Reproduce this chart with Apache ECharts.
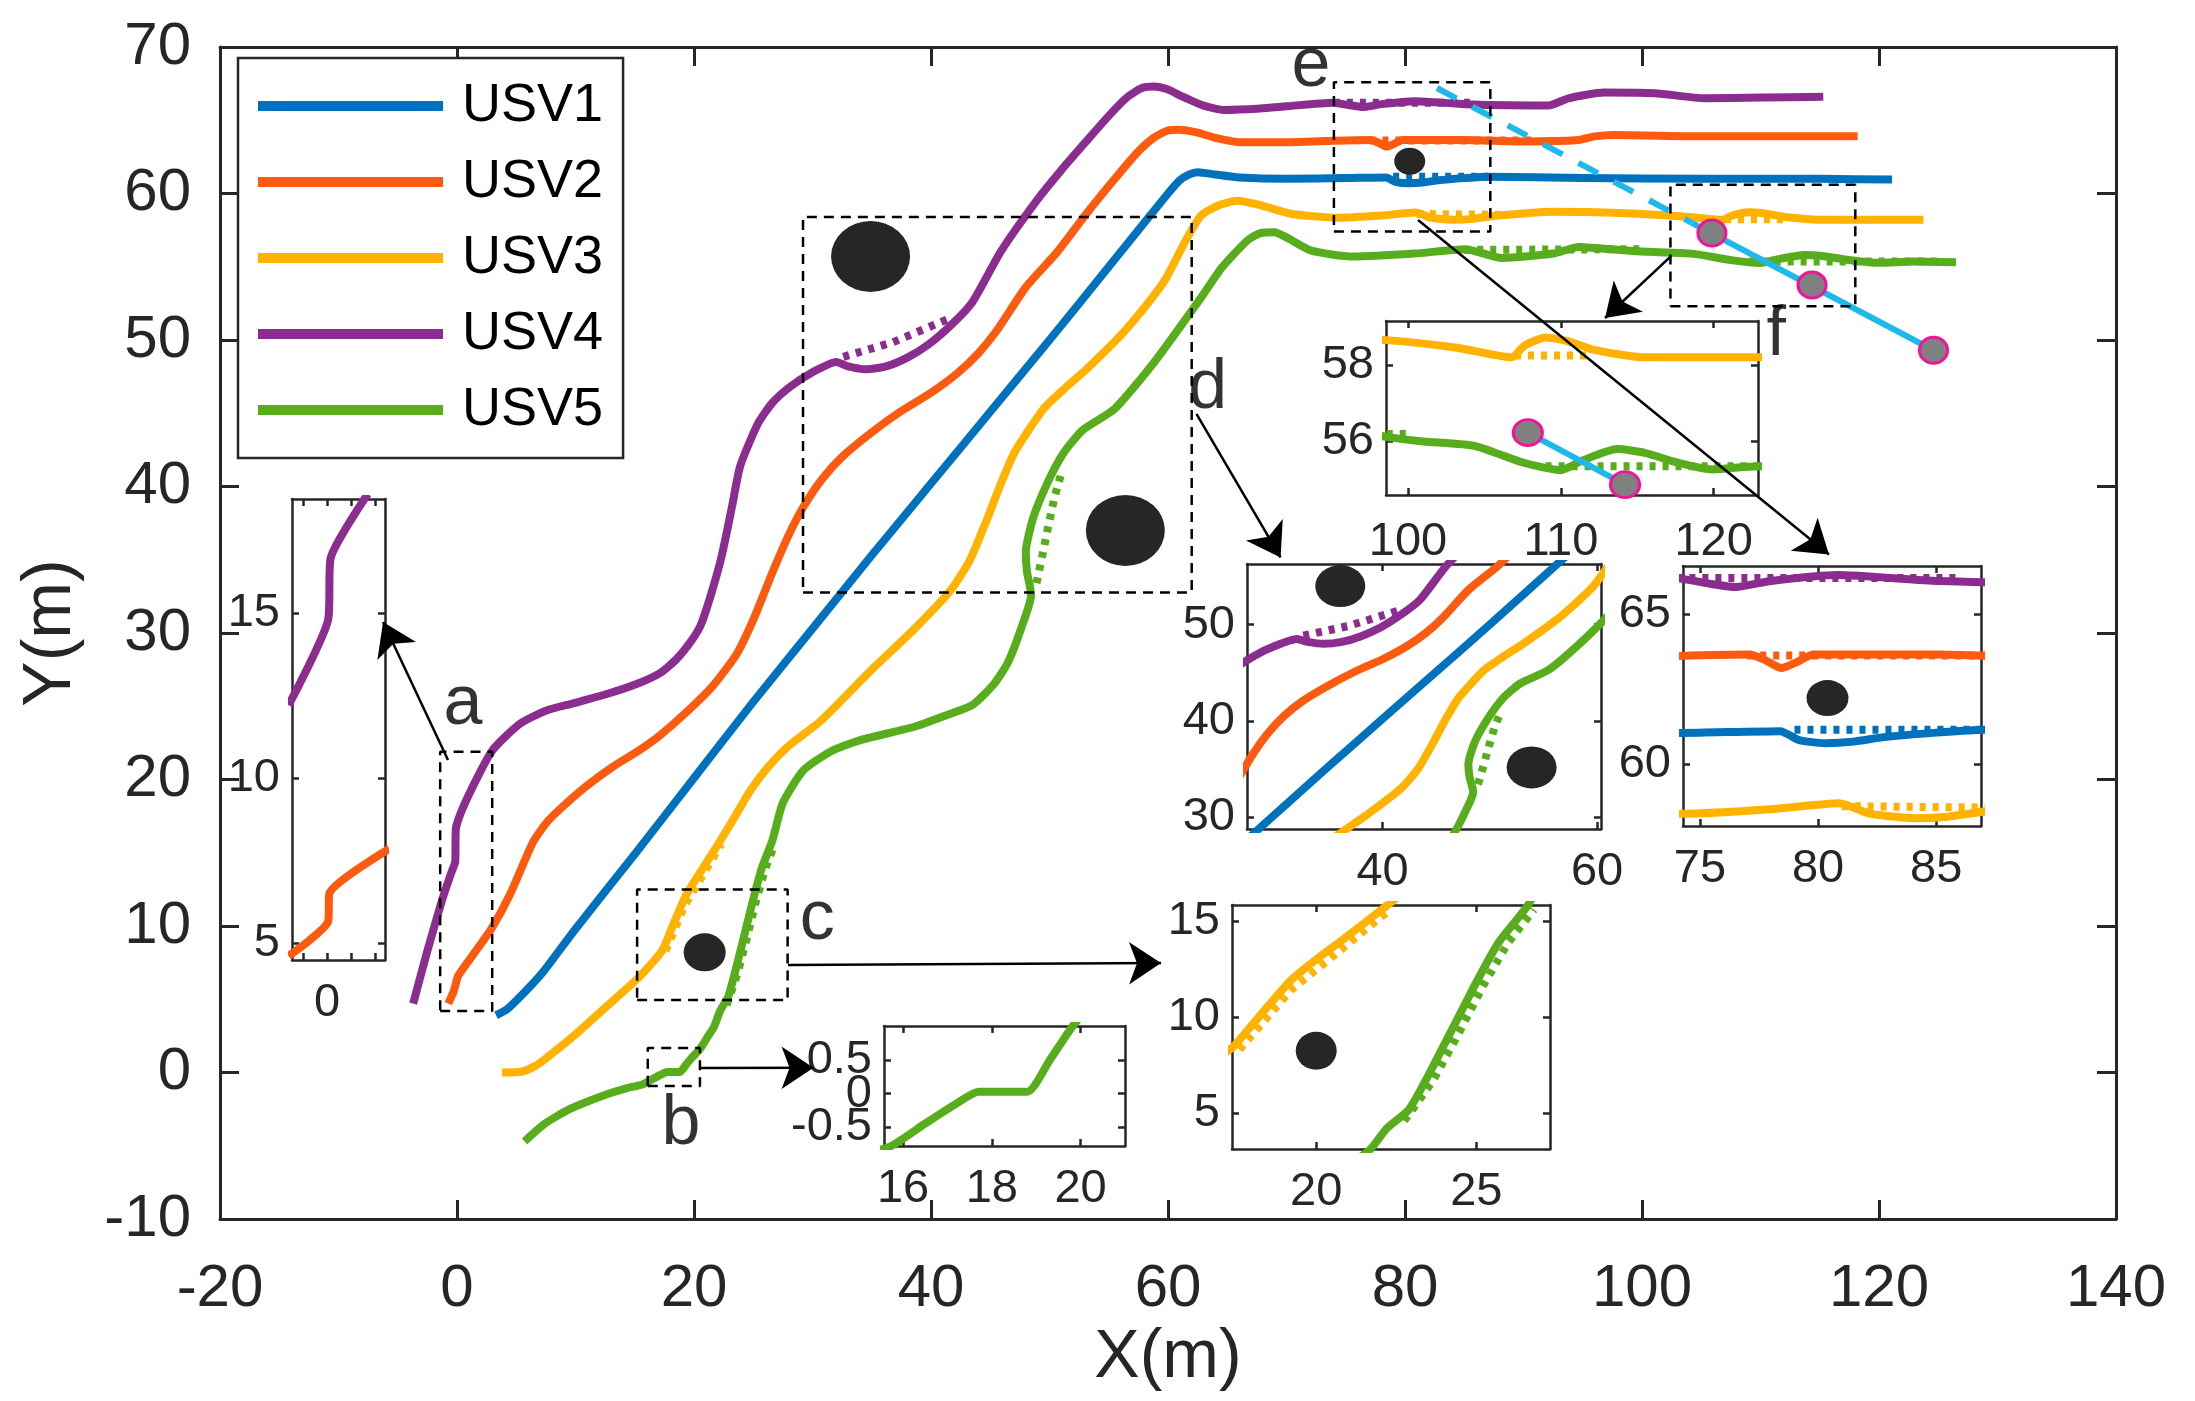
<!DOCTYPE html>
<html>
<head>
<meta charset="utf-8">
<script src="https://cdn.jsdelivr.net/npm/echarts@6/dist/echarts.min.js"></script>
<style>
  html, body { margin: 0; padding: 0; background: #fff; }
  #chart { width: 2195px; height: 1401px; }
</style>
</head>
<body>
<div id="chart"></div>
<script>
// trajectories of the five USVs, [x, y] in metres
const names = ['USV1', 'USV2', 'USV3', 'USV4', 'USV5'];
const colors = ['#0072BD', '#FC5A0E', '#FFB300', '#8B2C8F', '#57AD1B'];

const usv1 = [[3.3,3.9],[4.2,4.3],[5.0,4.9],[6.2,5.9],[7.4,7.0],[10,9.8],[15,14.9],[20,20.1],[25,25.3],[30,30.3],[35,35.3],[40,40.2],[45,45.1],[50,50.0],[55,55.0],[58,58.0],[60,60.0],[61,60.9],[61.8,61.3],[62.5,61.45],[64,61.3],[66,61.1],[70,61.0],[75,61.05],[78.4,61.1],[79.2,60.8],[80.3,60.7],[81.5,60.75],[82.8,60.9],[85,61.05],[87,61.15],[95,61.05],[105,61.0],[115,61.0],[121.1,60.95]];
const usv2 = [[-0.74,4.7],[-0.3,5.5],[-0.15,5.9],[0.1,6.6],[1.5,8.2],[2.9,9.8],[4.5,12.2],[6.4,15.7],[7.6,17.1],[8.85,18.1],[11,19.6],[13.2,20.9],[15.2,21.9],[17.1,23.0],[19.5,24.7],[21.5,26.3],[23.55,28.5],[25,30.9],[26.6,34.1],[28,36.7],[29.3,38.7],[30.8,40.5],[32.6,42.1],[35,43.7],[37.4,45.1],[40,46.4],[42.25,47.75],[44,49.1],[45.6,50.7],[48,53.6],[50.7,56.05],[53,58.5],[55.3,60.8],[57.3,62.7],[58.8,63.8],[60,64.3],[61,64.35],[62.5,64.15],[64,63.8],[66.1,63.5],[70,63.5],[74,63.6],[77.1,63.65],[77.8,63.45],[78.45,63.2],[79.1,63.4],[79.8,63.65],[85,63.65],[90,63.55],[94.65,63.65],[96,63.9],[97.65,64.0],[105.3,63.9],[118.2,63.9]];
const usv3 = [[3.8,0.0],[5.45,0.05],[6.5,0.4],[7.4,0.9],[10,2.6],[12.2,4.2],[15.1,6.3],[16.6,7.6],[17.4,8.45],[18.0,9.6],[19.2,11.9],[20.0,13.0],[20.8,14.0],[22.2,15.8],[23.4,17.4],[24.8,19.3],[26.3,20.9],[28,22.3],[30.7,24.0],[35.0,27.5],[38.5,30.2],[41.65,32.9],[43.3,35.0],[44.7,37.7],[45.9,40.2],[47.1,42.4],[49.5,45.3],[51.3,46.7],[53.1,48.0],[56.1,50.4],[58,52.2],[59.75,54.1],[61.5,56.8],[62.8,58.5],[64.3,59.2],[65.8,59.5],[67.8,59.2],[70.45,58.6],[74.3,58.35],[78,58.5],[80.9,58.7],[82.2,58.35],[84.1,58.2],[85.5,58.25],[87.3,58.45],[92.5,58.75],[98.6,58.65],[103.2,58.45],[106.8,58.2],[107.6,58.5],[109.0,58.72],[110.5,58.62],[112.1,58.4],[115.4,58.2],[123.75,58.2]];
const usv4 = [[-3.7,4.7],[-2.5,8.3],[-1.25,11.8],[-0.5,13.6],[-0.15,14.4],[-0.1,16.6],[0.85,18.7],[2.95,21.95],[5.3,23.8],[7.5,24.7],[9.8,25.2],[12.5,25.8],[15.1,26.5],[17.2,27.3],[18.5,28.2],[19.8,29.5],[20.6,30.6],[21.5,32.8],[22.35,35.3],[23.2,38.6],[23.9,41.4],[25.4,44.3],[26.6,45.7],[28.1,46.8],[30,47.8],[32.0,48.5],[33.0,48.2],[34.5,48.0],[36.2,48.2],[38,48.8],[39.8,49.7],[41.8,51.1],[43.5,52.6],[45.9,56.05],[48.9,59.5],[51,61.6],[53.2,63.65],[55,65.3],[56.6,66.6],[57.8,67.2],[58.8,67.3],[60,67.1],[61.0,66.7],[63,66.0],[64.8,65.7],[67.8,65.8],[70,65.95],[73.9,66.2],[75.5,66.0],[76.5,65.9],[78,66.1],[80.8,66.3],[85.1,66.1],[92.1,66.0],[93.8,66.5],[96.8,66.9],[101.1,66.85],[105.3,66.5],[110,66.55],[115.3,66.6]];
const usv5 = [[5.7,-4.7],[7.4,-3.5],[9.5,-2.5],[12.25,-1.6],[14.2,-1.1],[15.7,-0.8],[16.5,-0.45],[17.2,-0.15],[17.7,0.03],[18.8,0.03],[19.3,0.5],[19.8,1.0],[20.5,1.6],[21.2,2.5],[21.7,3.13],[22.2,4.2],[22.9,5.2],[23.7,7.6],[24.9,11.5],[25.7,13.9],[26.6,15.8],[27.5,18.4],[29.2,20.6],[31.5,21.9],[34.1,22.7],[38.6,23.6],[41,24.3],[43.5,25.1],[45.3,26.5],[46.5,28.0],[47.6,30.3],[48.45,32.6],[48.1,34.2],[48.0,35.5],[48.6,37.8],[49.8,40.2],[51.2,42.3],[52.8,43.85],[55.5,45.3],[58.85,48.5],[62.8,52.9],[64.5,54.9],[66.7,56.8],[67.8,57.3],[69.0,57.35],[70.0,57.0],[72.1,56.1],[75.6,55.7],[80.8,55.9],[85.1,56.2],[88.2,55.6],[92.5,55.9],[94.65,56.35],[98.9,56.1],[101,56.0],[104.4,55.88],[107.5,55.45],[110,55.25],[111.4,55.5],[113.7,55.8],[115.5,55.7],[117.6,55.45],[119.9,55.27],[122.9,55.35],[126.5,55.3]];
const paths = [usv1, usv2, usv3, usv4, usv5];

// planned (dotted) path pieces where the USVs swerve
const ref4d = [[32.6,48.85],[34.5,49.3],[36.8,49.85],[39,50.6],[41.35,51.4]];
const ref5d = [[48.9,33.4],[49.4,35.3],[49.9,37.3],[50.4,39.2],[51.0,40.9]];
const ref3c = [[17.6,8.3],[19.2,11.4],[20.8,13.55],[22.3,15.6]];
const ref5c = [[22.75,4.6],[23.65,6.7],[24.4,9.0],[25.2,11.6],[26.0,13.9],[26.8,15.6]];
const ref4e = [[74,66.2],[86,66.2]];
const ref2e = [[77,63.62],[91,63.62]];
const ref1e = [[79,61.15],[87,61.15]];
const ref3e = [[81,58.6],[88,58.55]];
const ref5e = [[85,56.15],[100,56.2]];
const ref3f = [[107,58.25],[112,58.25]];
const ref5f = [[109,55.35],[125,55.35]];
const refs = [[3, ref4d], [4, ref5d], [2, ref3c], [4, ref5c], [3, ref4e], [1, ref2e], [0, ref1e], [2, ref3e], [4, ref5e], [2, ref3f], [4, ref5f]];

// obstacles and the crossing vessel
const obstacles = [[34.9,55.7],[56.4,37.0],[20.9,8.2],[80.4,62.2]];
const obstacleSize = [[79,71],[79,71],[42,38],[31,27]];
const cyanDash = [[82.7,67.2],[104.2,58.0]];
const cyanSolid = [[104.2,58.0],[124.6,49.3]];
const waypoints = [[105.9,57.3],[114.35,53.75],[124.6,49.3]];

// zoomed views
const insetARed = [[-1.6,4.6],[0.05,5.65],[0.1,6.5],[2.6,7.85]];
const insetAPurple = [[-1.6,12.2],[0.05,14.8],[0.15,16.65],[1.7,18.6]];
const insetCObstacle = [[20.0,8.25]];
const insetDObstacles = [[36.05,54.0],[53.9,35.15]];
const insetFWaypoints = [[107.84,56.23],[114.2,54.87]];

// dashed zoom boxes (two corners) and their letters
const boxes = [[[-1.42,4.2],[2.97,21.9]], [[16.1,-0.93],[20.5,1.67]], [[15.2,4.95],[27.9,12.5]], [[29.2,32.77],[62.0,58.4]], [[74.0,57.4],[87.2,67.6]], [[102.4,52.3],[118.0,60.6]]];
const letters = [['a',0.5,25.1],['b',18.9,-3.58],['c',30.4,10.44],['d',63.36,46.65],['e',72.06,68.67],['f',111.33,50.27]];
const arrows = [[[-0.76,21.33],[-6.24,30.75]], [[20.57,0.31],[30.09,0.33]], [[27.93,7.34],[59.41,7.47]], [[62.4,44.95],[69.5,35.16]], [[81.1,58.19],[115.78,35.36]], [[102.45,55.73],[96.88,51.5]]];

const font = 'Liberation Sans, Arial, Helvetica, sans-serif';
const ink = '#262626';
const lineW = 8;

const grids = [];
const xAxes = [];
const yAxes = [];
const series = [];

function addGrid(box, o) {
  const gi = grids.length;
  grids.push({left: box[0], top: box[1], width: box[2], height: box[3], show: true,
    backgroundColor: '#fff', borderWidth: 0, containLabel: false, outerBoundsMode: 'none'});
  const line = {show: true, onZero: false, lineStyle: {color: ink, width: o.lw}};
  const tick = vals => Object.assign({show: true, inside: true, length: o.tick, lineStyle: {color: ink, width: o.lw}}, vals ? {customValues: vals} : {});
  const label = (show, vals, margin) => Object.assign({show: show, margin: margin, fontSize: o.fs, fontFamily: font, color: ink,
    showMinLabel: true, showMaxLabel: true, hideOverlap: false}, vals ? {customValues: vals} : {});
  ['bottom', 'top'].forEach((pos, k) => xAxes.push(Object.assign({
    type: 'value', gridIndex: gi, position: pos, min: o.x[0], max: o.x[1], interval: o.xi,
    splitLine: {show: false}, axisLine: line, axisTick: tick(o.xt),
    axisLabel: label(k === 0, o.xl || o.xt, o.xm)
  }, k === 0 ? o.xname || {} : {})));
  ['left', 'right'].forEach((pos, k) => yAxes.push(Object.assign({
    type: 'value', gridIndex: gi, position: pos, min: o.y[0], max: o.y[1], interval: o.yi,
    splitLine: {show: false}, axisLine: line, axisTick: tick(o.yt),
    axisLabel: label(k === 0, o.yl || o.yt, o.ym)
  }, k === 0 ? o.yname || {} : {})));
  return 2 * gi;
}

// an extra label-only axis, for tick labels that sit too close together to share one axis
function extraYLabels(gi, o, vals) {
  yAxes.push({
    type: 'value', gridIndex: gi, position: 'left', min: o.y[0], max: o.y[1],
    splitLine: {show: false}, axisLine: {show: false, onZero: false}, axisTick: {show: false},
    axisLabel: {show: true, customValues: vals, margin: o.ym, fontSize: o.fs, fontFamily: font, color: ink, hideOverlap: false}
  });
}

function pathSeries(ax, data, color, name, dotted) {
  return {
    type: 'line', name: name, xAxisIndex: ax, yAxisIndex: ax, data: data, color: color,
    showSymbol: false, symbol: 'none', smooth: dotted ? false : 0.2, clip: true, silent: true,
    itemStyle: {color: color},
    lineStyle: {color: color, width: lineW, type: dotted ? [6, 7] : 'solid', cap: 'butt', join: 'round'},
    z: dotted ? 4 : 3
  };
}

function dots(ax, data, sizes, fill, border) {
  return {
    type: 'scatter', xAxisIndex: ax, yAxisIndex: ax, data: data, symbol: 'circle', silent: true,
    symbolSize: (v, p) => sizes[p.dataIndex % sizes.length],
    itemStyle: {color: fill, borderColor: border || fill, borderWidth: border ? 3 : 0, opacity: 1},
    z: 6
  };
}

// main axes
const main = addGrid([220, 47, 1896, 1172], {
  x: [-20, 140], xi: 20, y: [-10, 70], yi: 10, lw: 3, tick: 19, fs: 60, xm: 40, ym: 29,
  xname: {name: 'X(m)', nameLocation: 'middle', nameGap: 88, nameTextStyle: {fontSize: 68, fontFamily: font, color: ink}},
  yname: {name: 'Y(m)', nameLocation: 'middle', nameGap: 135, nameTextStyle: {fontSize: 68, fontFamily: font, color: ink}}
});
const insetOpts = {lw: 2.5, tick: 7, fs: 47, xm: 20, ym: 12};
const optA = Object.assign({}, insetOpts, {x: [-1.46, 2.42], xt: [-1, 0, 1, 2], xl: [0], y: [4.48, 18.45], yt: [5, 10, 15]});
const optB = Object.assign({}, insetOpts, {x: [15.57, 21.0], xt: [16, 18, 20], y: [-0.79, 1.02], yt: [-0.5, 0, 0.5], yl: [-0.5, 0.5]});
const optC = Object.assign({}, insetOpts, {x: [17.37, 27.3], xt: [20, 25], y: [3.13, 15.84], yt: [5, 10, 15]});
const optD = Object.assign({}, insetOpts, {x: [27.35, 60.37], xt: [40, 60], y: [28.75, 56.3], yt: [30, 40, 50]});
const optE = Object.assign({}, insetOpts, {x: [74.28, 86.9], xt: [75, 80, 85], y: [57.94, 66.6], yt: [60, 65]});
const optF = Object.assign({}, insetOpts, {x: [98.56, 122.9], xt: [100, 110, 120], xm: 24, y: [54.6, 59.15], yt: [56, 58]});
const ia = addGrid([292, 499, 93, 461], optA);
const ib = addGrid([884, 1026, 241, 120], optB);
const ic = addGrid([1232, 905, 318, 244], optC);
const id = addGrid([1247, 564, 354, 265], optD);
const ie = addGrid([1683, 566, 298, 260], optE);
const iff = addGrid([1386, 321, 372, 174], optF);
extraYLabels(ib / 2, optB, [0]);

// main plot
paths.forEach((p, i) => series.push(pathSeries(main, p, colors[i], names[i], false)));
refs.forEach(r => series.push(pathSeries(main, r[1], colors[r[0]], undefined, true)));
series.push(dots(main, obstacles, obstacleSize, ink));
series.push({type: 'line', xAxisIndex: main, yAxisIndex: main, data: cyanDash, showSymbol: false, silent: true,
  lineStyle: {color: '#1FB8EA', width: 6, type: [22, 18]}, z: 5});
series.push({type: 'line', xAxisIndex: main, yAxisIndex: main, data: cyanSolid, showSymbol: false, silent: true,
  lineStyle: {color: '#1FB8EA', width: 6}, z: 5});
series.push(dots(main, waypoints, [[28, 26]], '#808080', '#F0149B'));
boxes.forEach(b => series.push({
  type: 'line', xAxisIndex: main, yAxisIndex: main, showSymbol: false, silent: true,
  data: [[b[0][0], b[0][1]], [b[1][0], b[0][1]], [b[1][0], b[1][1]], [b[0][0], b[1][1]], [b[0][0], b[0][1]]],
  lineStyle: {color: '#000', width: 2.5, type: [10, 7]}, z: 7
}));
series.push({
  type: 'scatter', xAxisIndex: main, yAxisIndex: main, symbolSize: 0, silent: true,
  data: letters.map(l => ({name: l[0], value: [l[1], l[2]]})),
  label: {show: true, position: 'inside', formatter: '{b}', fontSize: 70, fontFamily: font, color: '#000'}, z: 8
});
series.push({
  type: 'lines', coordinateSystem: 'cartesian2d', xAxisIndex: main, yAxisIndex: main, silent: true,
  data: arrows.map(a => ({coords: a})), symbol: ['none', 'arrow'], symbolSize: [26, 32],
  lineStyle: {color: '#000', width: 2.5, opacity: 1, curveness: 0}, z: 9
});

// inset a
series.push(pathSeries(ia, insetARed, colors[1], undefined, false));
series.push(pathSeries(ia, insetAPurple, colors[3], undefined, false));
// insets b - f show the same trajectories
[ib, ic, id, ie, iff].forEach(ax => {
  paths.forEach((p, i) => series.push(pathSeries(ax, p, colors[i], undefined, false)));
  refs.forEach(r => series.push(pathSeries(ax, r[1], colors[r[0]], undefined, true)));
});
series.push(dots(ic, insetCObstacle, [[41, 38]], ink));
series.push(dots(id, insetDObstacles, [[50, 42]], ink));
series.push(dots(ie, [obstacles[3]], [[42, 36]], ink));
series.push({type: 'line', xAxisIndex: iff, yAxisIndex: iff, data: insetFWaypoints, showSymbol: false, silent: true,
  lineStyle: {color: '#1FB8EA', width: 6}, z: 5});
series.push(dots(iff, insetFWaypoints, [[29, 26]], '#808080', '#F0149B'));

const chart = echarts.init(document.getElementById('chart'), null, {renderer: 'canvas'});
chart.setOption({
  animation: false,
  backgroundColor: '#fff',
  grid: grids,
  xAxis: xAxes,
  yAxis: yAxes,
  legend: {
    data: names, orient: 'vertical', left: 238, top: 58, icon: 'rect', selectedMode: false,
    itemWidth: 185, itemHeight: 10, itemGap: 20, padding: [20, 20, 20, 20],
    borderColor: ink, borderWidth: 2.5, backgroundColor: '#fff',
    textStyle: {fontSize: 54, fontFamily: font, color: '#000', lineHeight: 56, padding: [0, 0, 0, 14]}
  },
  series: series
});
</script>
</body>
</html>
